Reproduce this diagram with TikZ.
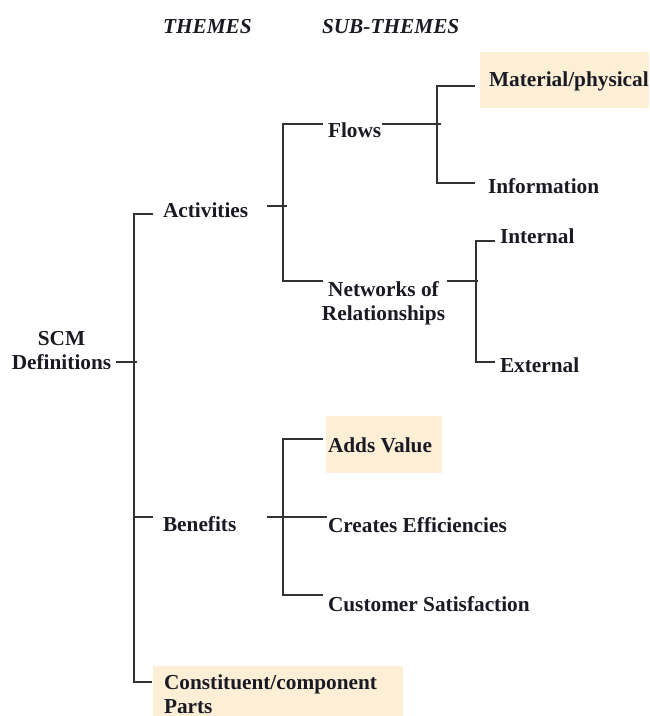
\documentclass[tikz,border=0pt]{standalone}
\usepackage{fontspec}
\setmainfont{Liberation Serif}
\definecolor{boxfill}{RGB}{253,239,214}
\definecolor{linecol}{RGB}{50,50,50}
\definecolor{txtcol}{RGB}{26,26,36}
\tikzset{
  lbl/.style={inner sep=0pt, outer sep=0pt, anchor=base west, text=txtcol,
    font=\fontsize{21.3}{24}\selectfont\bfseries},
  lbltwo/.style={lbl, anchor=north},
  hdr/.style={lbl, font=\fontsize{21.3}{24}\selectfont\bfseries\itshape},
  conn/.style={draw=linecol, line width=1.5pt},
  hilite/.style={fill=boxfill, draw=none}
}
\begin{document}
\begin{tikzpicture}[x=1pt,y=-1pt]
\useasboundingbox (0,0) rectangle (649,716);
% highlight boxes
\fill[hilite] (480,52) rectangle (649,108);
\fill[hilite] (326,416) rectangle (442,473);
\fill[hilite] (153,666) rectangle (403,716);
% headers
\node[hdr] (themes) at (163,33) {THEMES};
\node[hdr] (subthemes) at (322,33) {SUB-THEMES};
% labels
\node[lbltwo, align=center] (scm) at (61.5,331) {SCM\\Definitions};
\node[lbl] (act) at (163,217) {Activities};
\node[lbl] (ben) at (163,531) {Benefits};
\node[lbltwo, anchor=north west, align=left] (cons) at (164,674.3) {Constituent/component\\Parts};
\node[lbl] (flows) at (328,137) {Flows};
\node[lbltwo, align=center] (net) at (383.5,281.3) {Networks of\\Relationships};
\node[lbl] (mat) at (489,86) {Material/physical};
\node[lbl] (info) at (488,193) {Information};
\node[lbl] (int) at (500,243) {Internal};
\node[lbl] (ext) at (500,372) {External};
\node[lbl] (adds) at (328,452) {Adds Value};
\node[lbl] (eff) at (328,532) {Creates Efficiencies};
\node[lbl] (cust) at (328,611) {Customer Satisfaction};
% connector points
\coordinate (scmA) at (116,362);
\coordinate (scmB) at (137,362);
\coordinate (mActE) at (153,214);
\coordinate (mActC) at (134,214);
\coordinate (mBenC) at (134,517);
\coordinate (mBenE) at (153,517);
\coordinate (mConC) at (134,682);
\coordinate (mConE) at (152,682);
\coordinate (actA) at (267,206);
\coordinate (actB) at (287,206);
\coordinate (aFlE) at (323,124);
\coordinate (aFlC) at (283,124);
\coordinate (aNeC) at (283,281);
\coordinate (aNeE) at (323,281);
\coordinate (flA) at (382,124);
\coordinate (flB) at (441,124);
\coordinate (fMaE) at (475,86);
\coordinate (fMaC) at (437,86);
\coordinate (fInC) at (437,183);
\coordinate (fInE) at (475,183);
\coordinate (neA) at (447,281);
\coordinate (neB) at (478,281);
\coordinate (nIntE) at (495,241);
\coordinate (nIntC) at (476,241);
\coordinate (nExtC) at (476,362);
\coordinate (nExtE) at (495,362);
\coordinate (beA) at (267,517);
\coordinate (beB) at (327,517);
\coordinate (bAdE) at (323,439);
\coordinate (bAdC) at (283,439);
\coordinate (bCuC) at (283,595);
\coordinate (bCuE) at (323,595);
% connectors
\draw[conn] (scmA) -- (scmB);
\draw[conn] (mActE) -- (mActC) -- (mConC) -- (mConE);
\draw[conn] (mBenC) -- (mBenE);
\draw[conn] (actA) -- (actB);
\draw[conn] (aFlE) -- (aFlC) -- (aNeC) -- (aNeE);
\draw[conn] (flA) -- (flB);
\draw[conn] (fMaE) -- (fMaC) -- (fInC) -- (fInE);
\draw[conn] (neA) -- (neB);
\draw[conn] (nIntE) -- (nIntC) -- (nExtC) -- (nExtE);
\draw[conn] (beA) -- (beB);
\draw[conn] (bAdE) -- (bAdC) -- (bCuC) -- (bCuE);
\end{tikzpicture}
\end{document}
